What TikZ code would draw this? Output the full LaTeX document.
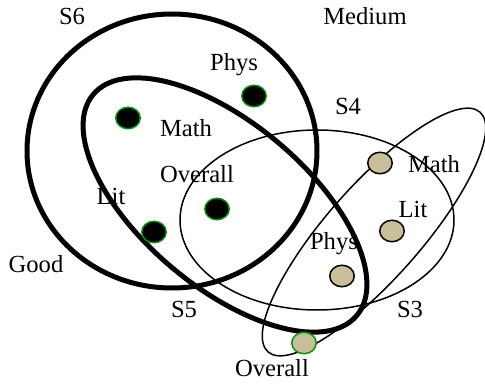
\documentclass[tikz,border=0pt]{standalone}
\usepackage{fontspec}
\setmainfont{Liberation Serif}
\usepackage{xcolor}
\usetikzlibrary{shapes.geometric}

\definecolor{dottan}{HTML}{C8BE9A}
\definecolor{dotgreen}{HTML}{138A13}

\begin{document}
\begin{tikzpicture}[
  x=0.02cm, y=-0.02cm,
  lbl/.style={anchor=base, inner sep=0pt, font=\fontsize{14}{16}\selectfont},
  dot/.style={ellipse, minimum width=0.49cm, minimum height=0.43cm,
              inner sep=0pt, line width=0.03cm},
  gooddot/.style={dot, draw=dotgreen, fill=black},
  meddot/.style={dot, draw=black, fill=dottan},
  boldset/.style={line width=0.1cm},
  thinset/.style={line width=0.03cm},
]
\useasboundingbox (0,0) rectangle (485,385);

% sets
\draw[boldset] (172,151) ellipse [x radius=145, y radius=137];
\draw[boldset, shift={(225,205)}, rotate=-40] (0,0) ellipse [x radius=172, y radius=82];
\draw[thinset] (317,220) ellipse [x radius=137, y radius=90];
\draw[thinset, shift={(374,232)}, rotate=48.5] (0,0) ellipse [x radius=160, y radius=47];

% good group
\node[gooddot] (gphys) at (254,96) {};
\node[gooddot] (gmath) at (128,118) {};
\node[gooddot] (goverall) at (217,209) {};
\node[gooddot] (glit) at (154,232) {};

% medium group
\node[meddot] (mmath) at (380,163) {};
\node[meddot] (mlit) at (392,231) {};
\node[meddot] (mphys) at (342,276) {};
\node[meddot, draw=dotgreen] (moverall) at (304,343) {};

% labels
\node[lbl] (s6) at (72,25) {S6};
\node[lbl] (medium) at (365,25) {Medium};
\node[lbl] (s4) at (348,115) {S4};
\node[lbl] (good) at (36,273) {Good};
\node[lbl] (s5) at (184,318) {S5};
\node[lbl] (s3) at (410,318) {S3};

\node[lbl] (gphyslbl) at (234,71) {Phys};
\node[lbl] (gmathlbl) at (186,137) {Math};
\node[lbl] (goveralllbl) at (197,183) {Overall};
\node[lbl] (glitlbl) at (111,205) {Lit};

\node[lbl] (mmathlbl) at (434,173) {Math};
\node[lbl] (mlitlbl) at (413,218) {Lit};
\node[lbl] (mphyslbl) at (334,250) {Phys};
\node[lbl] (moveralllbl) at (272,377) {Overall};
\end{tikzpicture}
\end{document}
